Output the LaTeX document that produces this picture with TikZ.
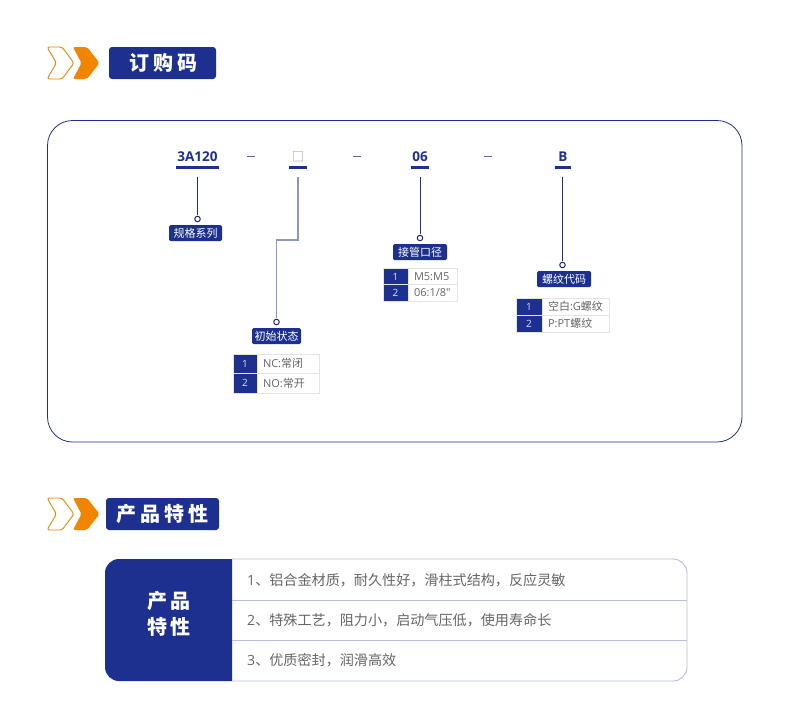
\documentclass[tikz,border=0pt]{standalone}
\usepackage{fontspec}
\setmainfont{Noto Sans CJK SC}
\newfontfamily\latfont{Open Sans}
\definecolor{navy}{HTML}{1D3090}
\definecolor{paleblue}{HTML}{8C96C8}
\definecolor{orangec}{HTML}{F28500}
\definecolor{rowline}{HTML}{B5BEDA}
\definecolor{cellline}{HTML}{E4E4E4}
\definecolor{valtext}{HTML}{666666}
\tikzset{
	titlebox/.style={fill=navy,rounded corners=3pt,inner sep=0pt,text=white,font=\fontsize{20}{22}\selectfont\bfseries},
	code/.style={inner sep=0pt,text=navy,font=\fontsize{13.5}{15}\selectfont\latfont\bfseries},
	sepmark/.style={fill=navy!70!white,minimum width=8pt,minimum height=1.2pt,inner sep=0pt},
	bar/.style={fill=navy,minimum height=3pt,inner sep=0pt},
	dot/.style={draw=navy!85!black,circle,fill=white,line width=1pt,minimum size=5.5pt,inner sep=0pt},
	tag/.style={fill=navy,rounded corners=1.5pt,inner sep=0pt,minimum height=16pt,text=white,font=\fontsize{11}{13}\selectfont},
	numcell/.style={fill=navy,draw=cellline,line width=0.8pt,inner sep=0pt,text=white!85!navy,font=\fontsize{10}{12}\selectfont\latfont},
	valcell/.style={draw=cellline,line width=0.8pt,inner xsep=6pt,inner ysep=0pt,align=left,text=valtext,font=\fontsize{11}{13}\selectfont},
	feature/.style={anchor=west,inner sep=0pt,text=valtext,font=\fontsize{14.1}{16}\selectfont},
	lead/.style={draw=navy,line width=1pt,shorten <=8pt,shorten >=1pt},
}
\begin{document}
\begin{tikzpicture}[x=1pt,y=-1pt]
	\useasboundingbox (0,0) rectangle (790,710);
	\fill[white] (0,0) rectangle (790,710);
	% chevrons of the two headings
	\foreach \y in {47,498}{
		\draw[orangec,line width=0.9pt,rounded corners=2.5pt] (47,\y) -- (62,\y) -- (74,\y+16) -- (62,\y+32) -- (47,\y+32) -- (56.5,\y+16) -- cycle;
		\fill[orangec,rounded corners=2pt] (73,\y) -- (87,\y) -- (99.5,\y+16) -- (87,\y+32) -- (73,\y+32) -- (81.5,\y+16) -- cycle;
	}
	\node[titlebox,minimum width=107pt,minimum height=32pt] (t1) at (162.5,63){\hspace{1pt}订\hspace{4pt}购\hspace{4pt}码};
	\node[titlebox,minimum width=113pt,minimum height=32pt] (t2) at (162.5,514){产\hspace{4pt}品\hspace{4pt}特\hspace{4pt}性};
	% ordering code frame
	\draw[navy,line width=0.8pt,rounded corners=25pt] (47.5,120.5) rectangle (742,442);
	\node[code] (c1) at (197.5,156.5){3A120};
	\node[code,text=paleblue,font=\fontsize{12.5}{14}\selectfont] (c2) at (298,156.5){□};
	\node[code] (c3) at (420,156.5){06};
	\node[code] (c4) at (563,156.5){B};
	\node[sepmark] (s1) at (251,156.5){};
	\node[sepmark] (s2) at (356.5,156.5){};
	\node[sepmark] (s3) at (488,156.5){};
	\node[bar,minimum width=43pt] (u1) at (197.5,167){};
	\node[bar,minimum width=18pt] (u2) at (298,167){};
	\node[bar,minimum width=18pt] (u3) at (420,167){};
	\node[bar,minimum width=16pt] (u4) at (562.5,167){};
	\node[dot] (d1) at (197.5,219){};
	\node[dot] (d2) at (276.5,322){};
	\node[dot] (d3) at (420,238){};
	\node[dot] (d4) at (562.5,265){};
	\coordinate (k1) at (298,240);
	\coordinate (k2) at (276.5,240);
	\draw[lead] (u1) -- (d1);
	\draw[lead,draw=paleblue,line width=1.2pt] (u2) -- (k1) -- (k2) -- (d2);
	\draw[lead] (u3) -- (d3);
	\draw[lead] (u4) -- (d4);
	\node[tag,minimum width=53pt] (g1) at (195.5,233){规格系列};
	\node[tag,minimum width=49pt] (g2) at (276.5,336){初始状态};
	\node[tag,minimum width=54pt] (g3) at (420,252){接管口径};
	\node[tag,minimum width=54pt] (g4) at (564,279){螺纹代码};
	% option tables
	\node[numcell,minimum width=24pt,minimum height=19.5pt] (n21) at (245,363.75){1};
	\node[numcell,minimum width=24pt,minimum height=19.5pt] (n22) at (245,383.25){2};
	\node[valcell,text width=50pt,minimum height=19.5pt] (v21) at (288,363.75){{\latfont NC:}常闭};
	\node[valcell,text width=50pt,minimum height=19.5pt] (v22) at (288,383.25){{\latfont NO:}常开};
	\node[numcell,minimum width=25pt,minimum height=16.5pt] (n31) at (395.5,276.5){1};
	\node[numcell,minimum width=25pt,minimum height=16.5pt] (n32) at (395.5,293){2};
	\node[valcell,text width=37pt,minimum height=16.5pt] (v31) at (432.5,276.5){\latfont M5:M5};
	\node[valcell,text width=37pt,minimum height=16.5pt] (v32) at (432.5,293){\latfont 06:1/8"};
	\node[numcell,minimum width=26pt,minimum height=17pt] (n41) at (529,306.5){1};
	\node[numcell,minimum width=26pt,minimum height=17pt] (n42) at (529,323.5){2};
	\node[valcell,text width=55pt,minimum height=17pt] (v41) at (575.5,306.5){空白{\latfont :G}螺纹};
	\node[valcell,text width=55pt,minimum height=17pt] (v42) at (575.5,323.5){{\latfont P:PT}螺纹};
	% product features table
	\fill[navy] (232,559) [rounded corners=14pt] -- (105,559) -- (105,681) [sharp corners] -- (232,681) -- cycle;
	\draw[rowline,line width=0.9pt] (232,559) [rounded corners=14pt] -- (687,559) -- (687,681) [sharp corners] -- (232,681);
	\draw[rowline,line width=0.9pt] (232,600) -- (687,600);
	\draw[rowline,line width=0.9pt] (232,640) -- (687,640);
	\node[inner sep=0pt,text=white,font=\fontsize{20}{22}\selectfont\bfseries] (h1) at (168.5,601){产\hspace{3pt}品};
	\node[inner sep=0pt,text=white,font=\fontsize{20}{22}\selectfont\bfseries] (h2) at (168.5,627){特\hspace{3pt}性};
	\node[feature] (f1) at (247,580){{\latfont 1}、铝合金材质，耐久性好，滑柱式结构，反应灵敏};
	\node[feature] (f2) at (247,620.5){{\latfont 2}、特殊工艺，阻力小，启动气压低，使用寿命长};
	\node[feature] (f3) at (247,660){{\latfont 3}、优质密封，润滑高效};
\end{tikzpicture}
\end{document}
